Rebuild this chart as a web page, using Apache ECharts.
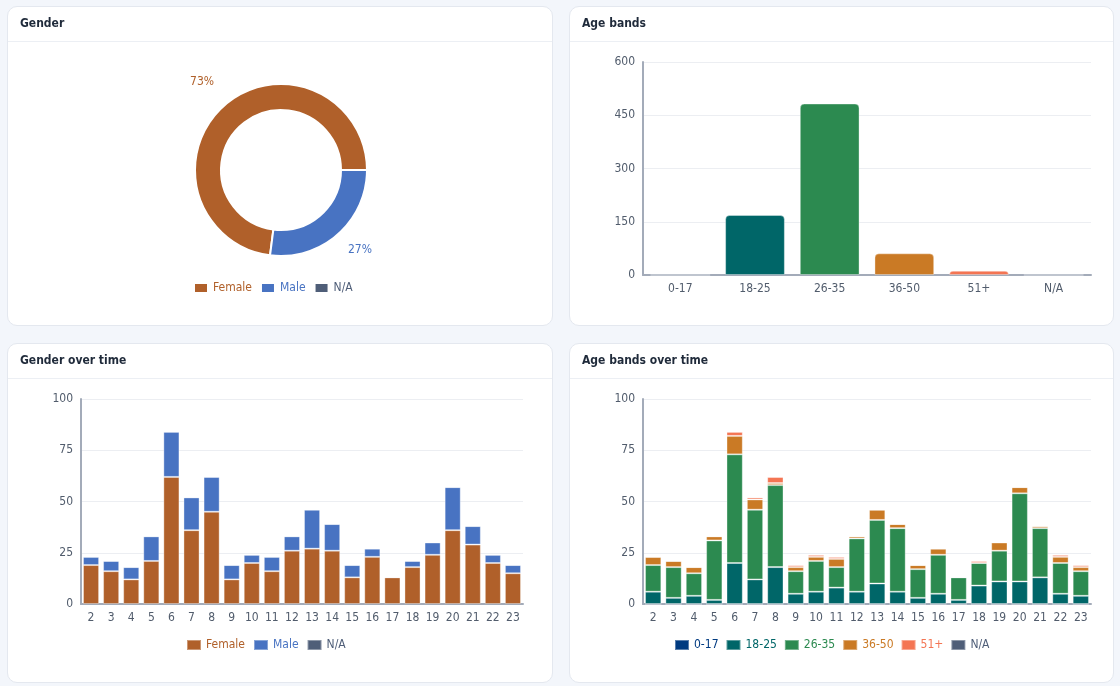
<!DOCTYPE html>
<html lang="en">
<head>
<meta charset="UTF-8" />
<title>Demographics</title>
<script src="https://cdn.jsdelivr.net/npm/echarts@6/dist/echarts.min.js"></script>
<style>
    html, body { margin: 0; padding: 0; background: #f3f6fb; }
    body { width: 1120px; height: 686px; position: relative; overflow: hidden;
           font-family: 'DejaVu Sans Condensed', 'DejaVu Sans', sans-serif; }
    .card { position: absolute; background: #fff; border: 1px solid #e4e8ef; border-radius: 10px;
            box-sizing: border-box; overflow: hidden; }
    .head { position: absolute; left: 0; right: 0; top: 0; height: 35px; border-bottom: 1px solid #eceff4;
            box-sizing: border-box; padding-left: 12px; line-height: 33px; font-size: 12px; font-weight: bold;
            color: #1f2a3a; z-index: 2; pointer-events: none; }
    .chart { position: absolute; left: 0; top: 0; right: 0; bottom: 0; }
</style>
</head>
<body>
<div class="card" style="left:7px;top:6px;width:546px;height:320px"><div class="head">Gender</div><div class="chart" id="gender"></div></div>
<div class="card" style="left:569px;top:6px;width:545px;height:320px"><div class="head">Age bands</div><div class="chart" id="ages"></div></div>
<div class="card" style="left:7px;top:343px;width:546px;height:340px"><div class="head">Gender over time</div><div class="chart" id="genderTime"></div></div>
<div class="card" style="left:569px;top:343px;width:545px;height:340px"><div class="head">Age bands over time</div><div class="chart" id="agesTime"></div></div>
<script>
const days = ['2','3','4','5','6','7','8','9','10','11','12','13','14','15','16','17','18','19','20','21','22','23'];

const genderNames = ['Female', 'Male', 'N/A'];
const genderColors = ['#b0602a', '#4873c2', '#4f5e78'];
const female = [19,16,12,21,62,36,45,12,20,16,26,27,26,13,23,13,18,24,36,29,20,15];
const male   = [4,5,6,12,22,16,17,7,4,7,7,19,13,6,4,0,3,6,21,9,4,4];
const genderNA = [0,0,0,0,0,0,0,0,0,0,0,0,0,0,0,0,0,0,0,0,0,0];

const ageNames = ['0-17', '18-25', '26-35', '36-50', '51+', 'N/A'];
const ageColors = ['#003a80', '#006668', '#2c8a50', '#ca7a25', '#f47553', '#4f5e78'];
const age0_17  = [0,0,0,0,0,0,0,0,0,0,0,0,0,0,0,0,0,0,0,0,0,0];
const age18_25 = [6,3,4,2,20,12,18,5,6,8,6,10,6,3,5,2,9,11,11,13,5,4];
const age26_35 = [13,15,11,29,53,34,40,11,15,10,26,31,31,14,19,11,11,15,43,24,15,12];
const age36_50 = [4,3,3,2,9,5,1,2,2,4,1,5,2,2,3,0,0,4,3,1,3,2];
const age51up  = [0,0,0,0,2,1,3,1,1,1,0,0,0,0,0,0,1,0,0,0,1,1];
const ageNA    = [0,0,0,0,0,0,0,0,0,0,0,0,0,0,0,0,0,0,0,0,0,0];

const ageTicks = [0, 150, 300, 450, 600];
const timeTicks = [0, 25, 50, 75, 100];

const FONT = "'DejaVu Sans Condensed', 'DejaVu Sans', sans-serif";
const sum = arr => arr.reduce((a, b) => a + b, 0);
const genderSeries = [female, male, genderNA];
const ageSeries = [age0_17, age18_25, age26_35, age36_50, age51up, ageNA];

const legendOf = (names, colors, left, top, gap) => ({
    top: top, left: left, itemWidth: 14, itemHeight: 10, itemGap: gap,
    icon: 'rect',
    textStyle: { fontFamily: FONT, fontSize: 12 },
    data: names.map((n, i) => ({ name: n, textStyle: { color: colors[i] } }))
});

const valueAxis = (ticks) => ({
    type: 'value',
    min: ticks[0], max: ticks[ticks.length - 1], interval: ticks[1] - ticks[0],
    axisLine: { show: true, lineStyle: { color: '#a3abb9', width: 2 } },
    axisTick: { show: false },
    axisLabel: { color: '#515c6c', fontFamily: FONT, fontSize: 12, margin: 8 },
    splitLine: { lineStyle: { color: '#eceef2' } }
});

const catAxis = (data) => ({
    type: 'category', data: data,
    axisLine: { lineStyle: { color: '#a3abb9', width: 2 } },
    axisTick: { show: false },
    axisLabel: { color: '#515c6c', fontFamily: FONT, fontSize: 12, margin: 8, interval: 0 }
});

// Gender donut
const gChart = echarts.init(document.getElementById('gender'));
gChart.setOption({
    animation: false,
    color: genderColors,
    legend: legendOf(genderNames, genderColors, 180, 270, 8),
    series: [{
        type: 'pie',
        center: [273, 163],
        radius: [60, 86],
        startAngle: 0,
        clockwise: false,
        itemStyle: { borderColor: '#fff', borderWidth: 2 },
        label: {
            color: 'inherit', fontFamily: FONT, fontSize: 12,
            formatter: p => p.value ? Math.round(p.percent) + '%' : ''
        },
        labelLine: { show: false, length: 26, length2: 0 },
        labelLayout: () => ({ align: 'center', dy: -4 }),
        data: genderNames.map((n, i) => ({ name: n, value: sum(genderSeries[i]) }))
    }]
});

// Age bands totals
const aChart = echarts.init(document.getElementById('ages'));
aChart.setOption({
    animation: false,
    grid: { left: 73, right: 22, top: 55, bottom: 50 },
    xAxis: catAxis(ageNames),
    yAxis: valueAxis(ageTicks),
    series: [{
        type: 'bar',
        barCategoryGap: '20%',
        itemStyle: { borderRadius: [4, 4, 0, 0], borderColor: 'rgba(255,255,255,0.35)', borderWidth: 1 },
        data: ageNames.map((n, i) => ({ value: sum(ageSeries[i]), itemStyle: { color: ageColors[i] } }))
    }]
});

// Gender over time
const gtChart = echarts.init(document.getElementById('genderTime'));
gtChart.setOption({
    animation: false,
    color: genderColors,
    legend: legendOf(genderNames, genderColors, 173, 290, 8),
    grid: { left: 73, right: 29, top: 55, bottom: 78 },
    xAxis: catAxis(days),
    yAxis: valueAxis(timeTicks),
    series: genderNames.map((n, i) => ({
        name: n, type: 'bar', stack: 'g', barCategoryGap: '20%',
        itemStyle: { borderColor: 'rgba(255,255,255,0.35)', borderWidth: 1 },
        data: genderSeries[i]
    }))
});

// Age bands over time
const atChart = echarts.init(document.getElementById('agesTime'));
atChart.setOption({
    animation: false,
    color: ageColors,
    legend: legendOf(ageNames, ageColors, 99, 290, 7),
    grid: { left: 73, right: 22, top: 55, bottom: 78 },
    xAxis: catAxis(days),
    yAxis: valueAxis(timeTicks),
    series: ageNames.map((n, i) => ({
        name: n, type: 'bar', stack: 'a', barCategoryGap: '20%',
        itemStyle: { borderColor: 'rgba(255,255,255,0.35)', borderWidth: 1 },
        data: ageSeries[i]
    }))
});
</script>
</body>
</html>
